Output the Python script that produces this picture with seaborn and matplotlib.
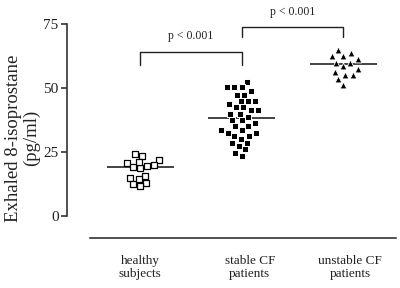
import numpy as np
import matplotlib
matplotlib.use('Agg')
import matplotlib.pyplot as plt
import seaborn as sns

# groups and values (pg/ml)
groups = ['healthy\nsubjects', 'stable CF\npatients', 'unstable CF\npatients']
healthy = [23.5, 24.3, 21.7, 20.6, 19.6, 18.6, 19.3, 19.9, 21.2,
           15.6, 14.8, 13.0, 11.7, 12.4, 14.3]
stable = [52.3, 50.3, 50.3, 50.3, 48.7, 47.4, 47.4, 45.0, 45.0, 45.0,
          43.6, 42.4, 42.4, 41.3, 41.3, 40.0, 40.0, 38.8, 37.4, 37.4,
          36.2, 35.0, 35.0, 33.7, 33.7, 32.5, 32.5, 31.2, 31.2, 30.0,
          28.6, 28.6, 27.3, 26.0, 24.8, 23.6]
unstable = [64.8, 62.5, 62.5, 63.5, 61.2, 59.9, 59.9, 58.6, 57.3,
            55.0, 55.0, 56.3, 53.6, 51.3]

# significance brackets: (from group, to group, leg bottom, bar height)
brackets = [(0, 1, 59.0, 64.2), (1, 2, 70.0, 73.8)]
p_labels = ['p < 0.001', 'p < 0.001']

sns.set_style('ticks')
plt.rcParams['font.family'] = ['Liberation Serif', 'DejaVu Serif']
ink = '#222222'

fig = plt.figure(figsize=(4, 2.88), dpi=100)
ax = fig.add_axes([0.1675, 0.1736, 0.8225, 0.823])

# scatter dot plots, one marker style per group
# (white edges on the filled markers leave small gaps between neighbours)
sns.swarmplot(x=[groups[0]] * len(healthy), y=healthy, order=groups, marker='s',
              size=4.0, color='white', edgecolor='black', linewidth=0.9, ax=ax)
sns.swarmplot(x=[groups[1]] * len(stable), y=stable, order=groups, marker='s',
              size=4.3, color='black', edgecolor='white', linewidth=0.7, ax=ax)
sns.swarmplot(x=[groups[2]] * len(unstable), y=unstable, order=groups, marker='^',
              size=4.9, color='black', edgecolor='white', linewidth=0.6, ax=ax)

# median lines
for i, vals in enumerate([healthy, stable, unstable]):
    ax.hlines(np.median(vals), i - 0.33, i + 0.33, color=ink, lw=1.2, zorder=1)

# brackets with p values
for (a, b, low, top), lab in zip(brackets, p_labels):
    ax.plot([a, a, b, b], [low, top, top, low], color=ink, lw=1.0)
    ax.text((a + b) / 2, top + 6, lab, ha='center', va='center', fontsize=8.5, color=ink)

ax.set_xlim(-0.72, 2.52)
ax.set_ylim(-8.6, 84)
ax.set_yticks([0, 25, 50, 75])
ax.set_xticks([0, 1.08, 2.07])
ax.set_xticklabels(groups, fontsize=9.5, color=ink)
ax.tick_params(axis='y', length=4, width=1.1, labelsize=11, colors=ink, pad=2)
ax.tick_params(axis='x', length=0, pad=12)
ax.set_xlabel('')
ax.set_ylabel('')

for s in ['top', 'right']:
    ax.spines[s].set_visible(False)
ax.spines['left'].set_bounds(0, 75)
ax.spines['bottom'].set_bounds(-0.49, 2.52)
for s in ['left', 'bottom']:
    ax.spines[s].set_linewidth(1.1)
    ax.spines[s].set_color(ink)

fig.text(0.056, 1 - 138 / 288, 'Exhaled 8-isoprostane\n(pg/ml)', rotation=90,
         ha='center', va='center', fontsize=13.5, linespacing=1.1, color=ink)

fig.savefig('out.png', dpi=100)
